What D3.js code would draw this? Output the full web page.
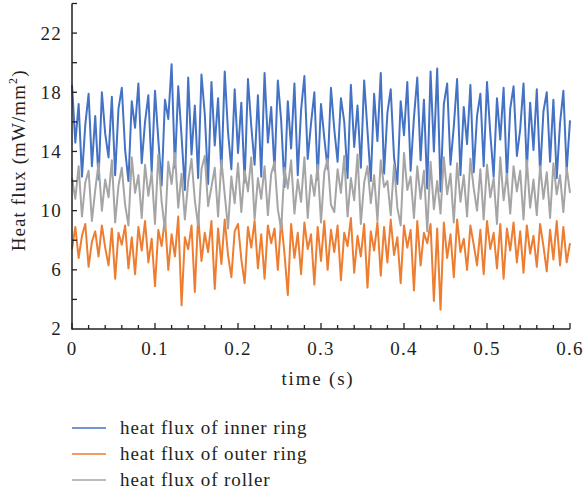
<!DOCTYPE html>
<html>
<head>
<meta charset="utf-8">
<script src="https://cdn.jsdelivr.net/npm/d3@7"></script>
<style>
  html, body { margin: 0; padding: 0; background: #fff; }
  svg { display: block; }
  text { font-family: "Liberation Serif", "DejaVu Serif", serif; fill: #231f20; }
</style>
</head>
<body>
<svg id="chart" width="584" height="494"></svg>
<script>
// Sampling step of the recorded signals (s)
const timeStep = 0.004;

// Heat flux of the inner ring (mW/mm²)
const innerRing = [
  18.5, 14.6, 17.2, 12.3, 15.8, 17.9, 13.0, 16.4, 12.1, 18.0,
  15.2, 13.6, 17.7, 12.4, 16.9, 18.3, 14.1, 12.0, 17.4, 15.6,
  18.6, 13.2, 16.0, 17.8, 12.6, 18.1, 14.8, 11.7, 17.5, 16.2,
  19.9, 12.9, 18.4, 15.0, 11.4, 19.0, 13.8, 17.1, 12.2, 19.2,
  16.5, 11.8, 18.7, 14.4, 17.6, 12.5, 19.4, 15.3, 12.8, 18.2,
  13.9, 17.3, 11.9, 18.9, 15.7, 13.1, 17.8, 12.3, 19.3, 14.6,
  17.0, 12.7, 18.8, 16.1, 11.6, 17.4, 14.2, 18.6, 12.4, 16.8,
  19.1, 13.5, 15.9, 18.0, 12.1, 17.2, 14.9, 12.8, 18.3, 15.5,
  13.3, 17.6, 16.0, 12.2, 18.5, 14.3, 17.1, 12.9, 18.8, 15.4,
  12.0, 17.9, 14.7, 19.3, 12.5, 16.6, 18.2, 13.6, 11.8, 17.4,
  15.1, 18.7, 12.7, 16.3, 19.0, 13.4, 17.5, 11.5, 19.4, 14.0,
  19.6, 11.3, 17.2, 18.6, 13.1, 15.7, 18.9, 12.4, 17.0, 14.5,
  18.5, 12.6, 16.4, 17.9, 13.0, 18.7, 15.2, 12.3, 17.6, 14.8,
  18.3, 12.1, 16.9, 18.4, 13.7, 15.5, 18.6, 12.8, 17.3, 14.1,
  18.2, 12.5, 16.7, 18.0, 13.3, 17.5, 12.2, 15.9, 18.1, 12.7, 16.1
];

// Heat flux of the outer ring (mW/mm²)
const outerRing = [
  7.4, 8.9, 6.8, 8.3, 9.1, 6.2, 7.9, 8.6, 6.9, 9.0,
  7.5, 6.3, 8.8, 5.4, 8.5, 7.7, 9.0, 6.1, 8.2, 5.7,
  8.9, 7.3, 9.3, 6.5, 8.1, 4.9, 8.7, 7.6, 9.5, 6.0,
  8.4, 6.9, 9.6, 3.6, 8.2, 7.4, 9.0, 4.5, 9.7, 6.6,
  8.5, 7.2, 9.3, 4.7, 8.8, 6.4, 9.4, 7.0, 5.5, 8.6,
  9.1, 6.7, 5.1, 8.9, 7.5, 9.3, 6.1, 8.4, 5.4, 9.0,
  7.8, 8.8, 6.0, 9.4, 7.1, 4.3, 9.1, 6.8, 8.5, 5.7,
  9.2, 7.4, 8.4, 5.0, 8.9, 6.6, 9.3, 6.0, 8.7, 7.2,
  9.0, 5.3, 8.5, 7.6, 9.5, 5.8, 8.3, 6.9, 9.1, 4.8,
  8.6, 7.3, 9.2, 5.6, 8.9, 6.5, 9.4, 7.0, 8.2, 5.1,
  9.0, 7.5, 8.7, 4.6, 9.3, 6.3, 8.5, 7.8, 9.1, 3.9,
  8.8, 3.3, 9.2, 6.8, 8.4, 5.5, 9.4, 7.2, 8.1, 6.0,
  9.0, 7.7, 6.3, 8.7, 5.7, 9.3, 7.4, 8.5, 6.1, 9.1,
  5.4, 8.8, 7.3, 9.2, 6.5, 8.6, 5.8, 9.0, 7.1, 8.3,
  6.2, 9.1, 7.6, 5.9, 8.7, 6.7, 9.3, 6.3, 8.9, 6.5, 7.8
];

// Heat flux of the roller (mW/mm²)
const roller = [
  12.2, 10.8, 13.0, 9.6, 11.9, 12.7, 9.3, 11.4, 13.2, 10.0,
  12.1, 10.9, 13.4, 9.2, 11.7, 12.9, 10.4, 9.0, 13.6, 11.2,
  12.4, 9.5, 13.1, 11.0, 12.6, 9.1, 13.8, 10.6, 8.7, 13.3,
  11.8, 13.9, 10.2, 12.5, 9.4, 12.0, 13.5, 10.7, 9.0, 12.8,
  13.7, 10.3, 11.6, 12.9, 9.6, 13.4, 11.1, 8.8, 12.3, 10.5,
  13.2, 9.9, 12.7, 11.3, 13.6, 9.4, 12.2, 10.8, 13.0, 9.7,
  12.5, 13.3, 10.1, 8.7, 12.9, 11.5, 13.4, 9.8, 12.1, 10.6,
  13.6, 9.5, 12.4, 11.0, 13.1, 9.2, 12.6, 13.5, 10.4, 9.9,
  12.8, 11.2, 13.7, 9.6, 12.2, 10.7, 13.8, 9.1, 11.9, 13.0,
  10.5, 12.4, 9.3, 13.4, 11.6, 12.0, 9.7, 13.1, 10.2, 9.0,
  13.9, 11.4, 12.3, 9.5, 13.0, 10.8, 12.7, 8.6, 13.3, 10.1,
  12.0, 9.8, 13.6, 11.1, 12.5, 9.2, 13.2, 10.6, 12.4, 9.6,
  13.5, 11.5, 10.0, 12.8, 9.4, 13.1, 10.9, 12.2, 9.1, 13.6,
  10.7, 12.5, 9.8, 13.0, 11.3, 12.7, 9.4, 13.4, 10.2, 12.1,
  9.7, 13.0, 10.8, 12.6, 9.5, 13.2, 11.1, 12.4, 9.9, 12.9, 11.2
];

const seriesNames = ["heat flux of inner ring", "heat flux of outer ring", "heat flux of roller"];
const seriesColors = ["#4472c4", "#ed7d31", "#a5a5a5"];
const xTicks = [0, 0.1, 0.2, 0.3, 0.4, 0.5, 0.6];
const yTicks = [2, 6, 10, 14, 18, 22];
const xLabel = "time (s)";

const svg = d3.select("#chart");

const x = d3.scaleLinear().domain([0, 0.6]).range([72, 570]);
const y = d3.scaleLinear().domain([2, 24]).range([329, 3.5]);

const series = [innerRing, outerRing, roller].map((vals, i) => ({
  name: seriesNames[i],
  color: seriesColors[i],
  points: vals.map((v, k) => [k * timeStep, v])
}));

const line = d3.line().x(d => x(d[0])).y(d => y(d[1]));

// Traces: inner ring first, roller drawn last
const plot = svg.append("g");
series.forEach(s => {
  plot.append("path")
    .datum(s.points)
    .attr("fill", "none")
    .attr("stroke", s.color)
    .attr("stroke-width", 2)
    .attr("stroke-linejoin", "round")
    .attr("d", line);
});

// Axes with inward ticks
const axisColor = "#231f20";

const xAxis = svg.append("g").attr("transform", `translate(0,${y(2)})`);
xAxis.append("line")
  .attr("x1", x(0)).attr("x2", x(0.6))
  .attr("stroke", axisColor).attr("stroke-width", 1.5);
xAxis.selectAll("line.minor")
  .data(d3.range(0, 31).map(k => k * 0.02))
  .join("line")
  .attr("class", "minor")
  .attr("x1", d => x(d)).attr("x2", d => x(d))
  .attr("y1", 0).attr("y2", (d, k) => k % 5 === 0 ? -6 : -4)
  .attr("stroke", axisColor).attr("stroke-width", 1.3);
xAxis.selectAll("text")
  .data(xTicks)
  .join("text")
  .attr("x", d => x(d))
  .attr("y", 26)
  .attr("text-anchor", "middle")
  .attr("font-size", 19)
  .attr("letter-spacing", 1.2)
  .text(d => d3.format("")(d));

const yAxis = svg.append("g").attr("transform", `translate(${x(0)},0)`);
yAxis.append("line")
  .attr("y1", y(2) + 0.75).attr("y2", y(24))
  .attr("stroke", axisColor).attr("stroke-width", 1.5);
yAxis.selectAll("line.tick")
  .data(d3.range(4, 25, 2))
  .join("line")
  .attr("class", "tick")
  .attr("x1", 0).attr("x2", 5)
  .attr("y1", d => y(d)).attr("y2", d => y(d))
  .attr("stroke", axisColor).attr("stroke-width", 1.3);
yAxis.selectAll("text")
  .data(yTicks)
  .join("text")
  .attr("x", -10)
  .attr("y", d => y(d))
  .attr("dy", "0.34em")
  .attr("text-anchor", "end")
  .attr("font-size", 19)
  .attr("letter-spacing", 1.2)
  .text(d => d);

// Axis titles
svg.append("text")
  .attr("x", 318)
  .attr("y", 385)
  .attr("text-anchor", "middle")
  .attr("font-size", 19)
  .attr("letter-spacing", 1.8)
  .text(xLabel);

const yTitle = svg.append("text")
  .attr("transform", `translate(25,${y(13.4)}) rotate(-90)`)
  .attr("text-anchor", "middle")
  .attr("font-size", 19)
  .attr("letter-spacing", 1.1);
yTitle.append("tspan").text("Heat flux (mW/mm");
yTitle.append("tspan").attr("dy", -8).attr("font-size", 12).text("2");
yTitle.append("tspan").attr("dy", 8).text(")");

// Legend
const legend = svg.append("g");
series.forEach((s, i) => {
  const ly = 428 + i * 26;
  legend.append("line")
    .attr("x1", 72).attr("x2", 106)
    .attr("y1", ly).attr("y2", ly)
    .attr("stroke", s.color).attr("stroke-width", 1.5);
  legend.append("text")
    .attr("x", 120).attr("y", ly)
    .attr("dy", "0.34em")
    .attr("font-size", 19)
    .attr("letter-spacing", 0.9)
    .text(s.name);
});
</script>
</body>
</html>
